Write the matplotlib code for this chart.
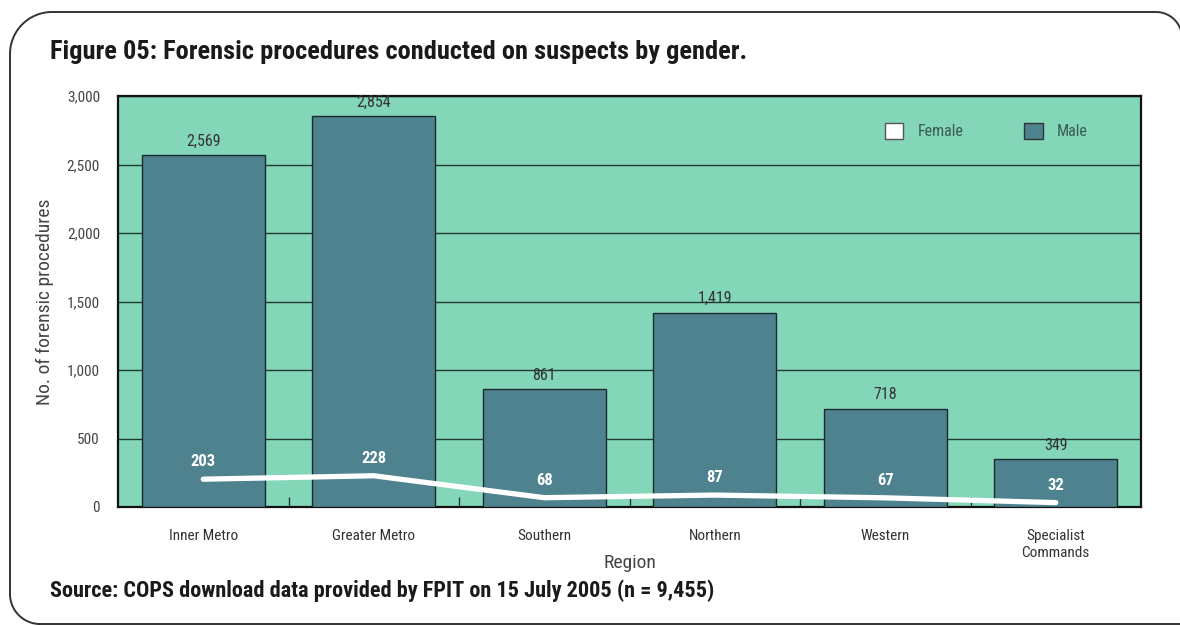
import numpy as np
import matplotlib
matplotlib.use("Agg")
import matplotlib.pyplot as plt
from matplotlib.patches import Patch
from matplotlib.lines import Line2D
from matplotlib import font_manager

# ---------------- data ----------------
regions = ["Inner Metro", "Greater Metro", "Southern", "Northern", "Western", "Specialist\nCommands"]
male = [2569, 2854, 861, 1419, 718, 349]
female = [203, 228, 68, 87, 67, 32]
yticks = [0, 500, 1000, 1500, 2000, 2500, 3000]

# ---------------- font choice ----------------
fl = font_manager.fontManager.ttflist
def has_bold(name):
    return any(f.name == name and (f.weight in ('bold', 700) or (isinstance(f.weight, int) and f.weight >= 700))
               and f.style == 'normal' for f in fl)
pref = ['Roboto Condensed', 'PT Sans Narrow', 'Archivo Narrow', 'Asap Condensed',
        'Fira Sans Condensed', 'IBM Plex Sans Condensed', 'Barlow Semi Condensed', 'Liberation Sans']
chosen = 'DejaVu Sans'
for p in pref:
    if has_bold(p):
        chosen = p
        break
plt.rcParams['font.family'] = [chosen, 'DejaVu Sans']

BG = '#84d6b9'
BAR = '#4e828f'

fig = plt.figure(figsize=(11.8, 6.26), dpi=100)
ax = fig.add_axes([118/1180, 1-507/626, (1141-118)/1180, (507-96)/626])
ax.set_facecolor(BG)
x = np.arange(len(regions))
ax.bar(x, male, width=0.72, color=BAR, edgecolor='#1a2a2a', linewidth=1.0, zorder=3)
ax.plot(x, female, color='white', lw=3.8, solid_capstyle='round', zorder=4)

for xi, v in zip(x, male):
    ax.annotate(f"{v:,}", (xi, v), xytext=(0, 10), textcoords='offset points',
                ha='center', va='center', fontsize=11.5, color='#333333', zorder=5)
for xi, v in zip(x, female):
    ax.annotate(f"{v:,}", (xi, v), xytext=(0, 12.5), textcoords='offset points',
                ha='center', va='center', fontsize=12, color='white', fontweight='bold', zorder=5)

ax.set_xlim(-0.5, len(regions)-0.5)
ax.set_ylim(0, 3000)
ax.set_yticks(yticks)
ax.set_yticklabels([f"{t:,}" for t in yticks], fontsize=11, color='#444444')
ax.yaxis.grid(True, color='#1f3a33', lw=1.0, zorder=1)
ax.set_axisbelow(True)
ax.tick_params(axis='y', length=0, pad=13)
ax.set_xticks(x)
ax.set_xticklabels(regions, fontsize=11, color='#333333', linespacing=1.25)
ax.tick_params(axis='x', length=0, pad=16)
ax.set_xticks(np.arange(0.5, len(regions)-0.5, 1), minor=True)
ax.tick_params(axis='x', which='minor', direction='in', length=7, width=1, color='#1f3a33')
for s in ax.spines.values():
    s.set_color('#111111')
    s.set_linewidth(1.6)

ax.set_xlabel("Region", fontsize=14, color='#444444', labelpad=0)
ax.xaxis.set_label_coords(0.5, -0.115)
ax.set_ylabel("No. of forensic procedures", fontsize=14, color='#444444', labelpad=9)

handles = [Patch(facecolor='white', edgecolor='#555555', label='Female'),
           Patch(facecolor=BAR, edgecolor='#333333', label='Male')]
leg = ax.legend(handles=handles, loc='upper right', bbox_to_anchor=(0.962, 0.97), ncol=2,
                frameon=False, fontsize=11.5, handlelength=1.15, handleheight=1.15,
                columnspacing=3.8, handletextpad=0.9)
for t in leg.get_texts():
    t.set_color('#3a5a55')

fig.text(50/1180, 1-52/626, "Figure 05: Forensic procedures conducted on suspects by gender.",
         fontsize=19, fontweight='bold', color='#1a1a1a', va='center', ha='left')
fig.text(50/1180, 1-591/626, "Source: COPS download data provided by FPIT on 15 July 2005 (n = 9,455)",
         fontsize=16, fontweight='bold', color='#1a1a1a', va='center', ha='left')

# rounded border (in image pixels, y down)
W, H = 1180, 626
L, T, R, B = 10, 12, 1182, 624
r_tl, r_tr, r_bl = 42, 26, 30
def arc(cx, cy, r, a0, a1):
    a = np.linspace(np.radians(a0), np.radians(a1), 30)
    return list(zip(cx + r*np.cos(a), cy + r*np.sin(a)))
path = arc(L + r_bl, B - r_bl, r_bl, 90, 180) + arc(L + r_tl, T + r_tl, r_tl, 180, 270) + \
       arc(R - r_tr, T + r_tr, r_tr, 270, 360) + [(R, B)]
path = np.array(path)
fig.add_artist(Line2D(path[:, 0]/W, 1 - path[:, 1]/H, transform=fig.transFigure,
                      color='#333333', lw=1.4))
fig.add_artist(Line2D([(L + r_bl)/W, R/W], [1 - B/H, 1 - B/H], transform=fig.transFigure,
                      color='#333333', lw=1.4))

fig.savefig("out.png", dpi=100)
